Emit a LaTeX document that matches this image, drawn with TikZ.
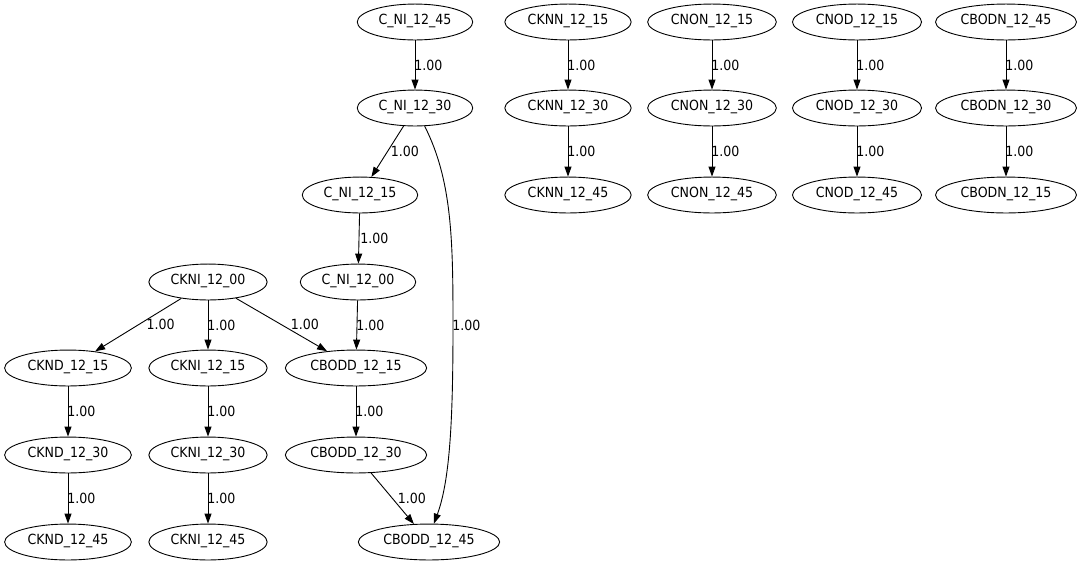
\documentclass[tikz,border=0pt]{standalone}
\usepackage{fontspec}
\setmainfont{DejaVu Sans Condensed}
\usetikzlibrary{shapes.geometric,arrows.meta}
\begin{document}
\begin{tikzpicture}[x=1pt,y=-1pt,line width=0.9pt,
  gnode/.style={draw,ellipse,inner xsep=4.4pt,inner ysep=6.2pt,text height=9pt,text depth=4pt,font=\fontsize{14}{16}\selectfont},
  lbl/.style={anchor=west,inner sep=0pt,font=\fontsize{14}{16}\selectfont},
  edge/.style={-{Triangle[length=10pt,width=7pt]}}]
  \useasboundingbox (0,0) rectangle (1082,566);
  % left cluster
  \node[gnode] (cni45) at (415,22) {C\_NI\_12\_45};
  \node[gnode] (cni30) at (415,108) {C\_NI\_12\_30};
  \node[gnode] (cni15) at (360,195) {C\_NI\_12\_15};
  \node[gnode] (cni00) at (358,282) {C\_NI\_12\_00};
  \node[gnode] (ckni00) at (208,282) {CKNI\_12\_00};
  \node[gnode] (cknd15) at (68,368) {CKND\_12\_15};
  \node[gnode] (ckni15) at (208,368) {CKNI\_12\_15};
  \node[gnode] (cbodd15) at (356,368) {CBODD\_12\_15};
  \node[gnode] (cknd30) at (68,455) {CKND\_12\_30};
  \node[gnode] (ckni30) at (208,455) {CKNI\_12\_30};
  \node[gnode] (cbodd30) at (356,455) {CBODD\_12\_30};
  \node[gnode] (cknd45) at (68,542) {CKND\_12\_45};
  \node[gnode] (ckni45) at (208,542) {CKNI\_12\_45};
  \node[gnode] (cbodd45) at (429,542) {CBODD\_12\_45};
  % chains on the right
  \node[gnode] (cknn15) at (568,22) {CKNN\_12\_15};
  \node[gnode] (cknn30) at (568,108) {CKNN\_12\_30};
  \node[gnode] (cknn45) at (568,195) {CKNN\_12\_45};
  \node[gnode] (cnon15) at (712,22) {CNON\_12\_15};
  \node[gnode] (cnon30) at (712,108) {CNON\_12\_30};
  \node[gnode] (cnon45) at (712,195) {CNON\_12\_45};
  \node[gnode] (cnod15) at (857,22) {CNOD\_12\_15};
  \node[gnode] (cnod30) at (857,108) {CNOD\_12\_30};
  \node[gnode] (cnod45) at (857,195) {CNOD\_12\_45};
  \node[gnode] (cbodn45) at (1006,22) {CBODN\_12\_45};
  \node[gnode] (cbodn30) at (1006,108) {CBODN\_12\_30};
  \node[gnode] (cbodn15) at (1006,195) {CBODN\_12\_15};
  % edges
  \draw[edge] (cni45) -- node[lbl,xshift=-1pt] {1.00} (cni30);
  \draw[edge] (cni30) -- node[lbl,xshift=3pt] {1.00} (cni15);
  \draw[edge] (cni15) -- node[lbl,xshift=1pt] {1.00} (cni00);
  \draw[edge] (cni00) -- node[lbl,xshift=-1pt] {1.00} (cbodd15);
  \draw[edge] (ckni00) -- node[lbl,xshift=8pt] {1.00} (cknd15);
  \draw[edge] (ckni00) -- node[lbl,xshift=-1pt] {1.00} (ckni15);
  \draw[edge] (ckni00) -- node[lbl,xshift=9pt] {1.00} (cbodd15);
  \draw[edge] (cknd15) -- node[lbl,xshift=-1pt] {1.00} (cknd30);
  \draw[edge] (ckni15) -- node[lbl,xshift=-1pt] {1.00} (ckni30);
  \draw[edge] (cbodd15) -- node[lbl,xshift=-1pt] {1.00} (cbodd30);
  \draw[edge] (cknd30) -- node[lbl,xshift=-1pt] {1.00} (cknd45);
  \draw[edge] (ckni30) -- node[lbl,xshift=-1pt] {1.00} (ckni45);
  \draw[edge] (cbodd30) -- node[lbl,xshift=5pt] {1.00} (cbodd45);
  \coordinate (bend) at (453,325);
  \draw[edge] (cni30.-62) .. controls (452,180) and (453,240) .. (bend)
    node[lbl,xshift=-1pt] {1.00}
    .. controls (453,420) and (450,480) .. (cbodd45.75);
  \draw[edge] (cknn15) -- node[lbl,xshift=-1pt] {1.00} (cknn30);
  \draw[edge] (cknn30) -- node[lbl,xshift=-1pt] {1.00} (cknn45);
  \draw[edge] (cnon15) -- node[lbl,xshift=-1pt] {1.00} (cnon30);
  \draw[edge] (cnon30) -- node[lbl,xshift=-1pt] {1.00} (cnon45);
  \draw[edge] (cnod15) -- node[lbl,xshift=-1pt] {1.00} (cnod30);
  \draw[edge] (cnod30) -- node[lbl,xshift=-1pt] {1.00} (cnod45);
  \draw[edge] (cbodn45) -- node[lbl,xshift=-1pt] {1.00} (cbodn30);
  \draw[edge] (cbodn30) -- node[lbl,xshift=-1pt] {1.00} (cbodn15);
\end{tikzpicture}
\end{document}
